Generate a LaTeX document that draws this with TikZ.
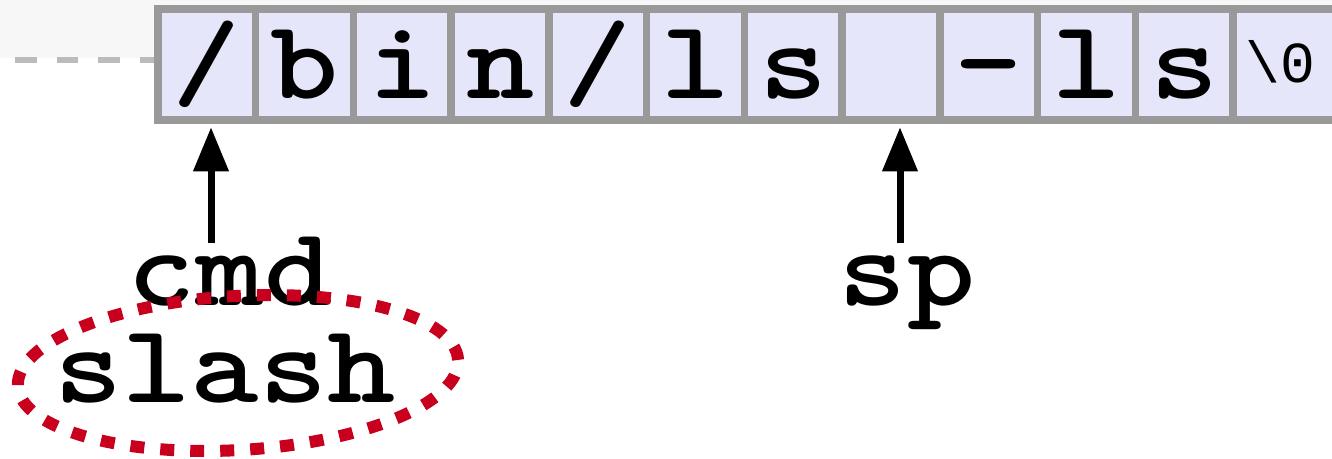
\documentclass[tikz,border=0pt]{standalone}
\usepackage{fontspec}
\setmonofont{Liberation Mono}
\newfontfamily\courb{lmmonolt10-bold.otf}[FakeStretch=1.16]
\usetikzlibrary{arrows.meta,shapes.geometric}
\definecolor{cellfill}{HTML}{E6E6FA}
\definecolor{cellline}{HTML}{999999}
\definecolor{bandgray}{HTML}{F7F7F7}
\definecolor{dashgray}{HTML}{BBBBBB}
\definecolor{hlred}{HTML}{C8001E}
\tikzset{
  cellbox/.style={draw=cellline, fill=cellfill, line width=7.5pt, minimum width=97.75pt, minimum height=111pt, inner sep=0pt, anchor=center},
  ch/.style={anchor=base, inner sep=0pt, font=\courb\fontsize{112}{112}\selectfont},
  smallch/.style={anchor=base, inner sep=0pt, font=\ttfamily\fontsize{58}{58}\selectfont},
  lbl/.style={anchor=base, inner sep=0pt, font=\courb\fontsize{112}{112}\selectfont},
  arr/.style={line width=7pt, -{Triangle[length=44pt,width=34pt]}, shorten >=3.5pt},
  hlring/.style={draw=hlred, ellipse, line width=12pt, dash pattern=on 14pt off 16pt, minimum width=441pt, minimum height=154pt, inner sep=0pt}
}
\begin{document}
\begin{tikzpicture}[x=1pt,y=-1pt]
\useasboundingbox (0,0) rectangle (1332,458);
\clip (0,0) rectangle (1332,458);
\fill[bandgray] (0,0) rectangle (1332,58);
% cells
\node[cellbox] (c1) at (206.9,64.5) {};
\node[cellbox] (c2) at (304.6,64.5) {};
\node[cellbox] (c3) at (402.4,64.5) {};
\node[cellbox] (c4) at (500.1,64.5) {};
\node[cellbox] (c5) at (597.9,64.5) {};
\node[cellbox] (c6) at (695.6,64.5) {};
\node[cellbox] (c7) at (793.4,64.5) {};
\node[cellbox] (c8) at (891.1,64.5) {};
\node[cellbox] (c9) at (988.9,64.5) {};
\node[cellbox] (c10) at (1086.6,64.5) {};
\node[cellbox] (c11) at (1184.4,64.5) {};
\node[cellbox, minimum width=112pt] (c12) at (1289,64.5) {};
% dashed lead-in line
\coordinate (d0) at (15,60);
\draw[dashgray, line width=6pt, dash pattern=on 21.7pt off 20pt] (d0) -- (d0 -| c1.west);
% characters
\node[ch] (t1) at (206.9,98) {/};
\node[ch] (t2) at (304.6,98) {b};
\node[ch] (t3) at (402.4,98) {i};
\node[ch] (t4) at (500.1,98) {n};
\node[ch] (t5) at (597.9,98) {/};
\node[ch] (t6) at (695.6,98) {l};
\node[ch] (t7) at (793.4,98) {s};
\node[ch] (t9) at (988.9,98) {-};
\node[ch] (t10) at (1086.6,98) {l};
\node[ch] (t11) at (1184.4,98) {s};
\node[smallch] (t12) at (1280,82) {\textbackslash 0};
% labels
\node[lbl] (cmd) at (230,305) {cmd};
\node[lbl] (sp) at (907,305) {sp};
\node[lbl] (slash) at (225,402) {slash};
% arrows
\coordinate (a1) at (211,243);
\draw[arr] (a1) -- (a1 |- c1.south);
\coordinate (a2) at (900,243);
\draw[arr] (a2) -- (a2 |- c8.south);
% highlight ring
\node[hlring, rotate=3.4] (ring) at (238,373) {};
\end{tikzpicture}
\end{document}
